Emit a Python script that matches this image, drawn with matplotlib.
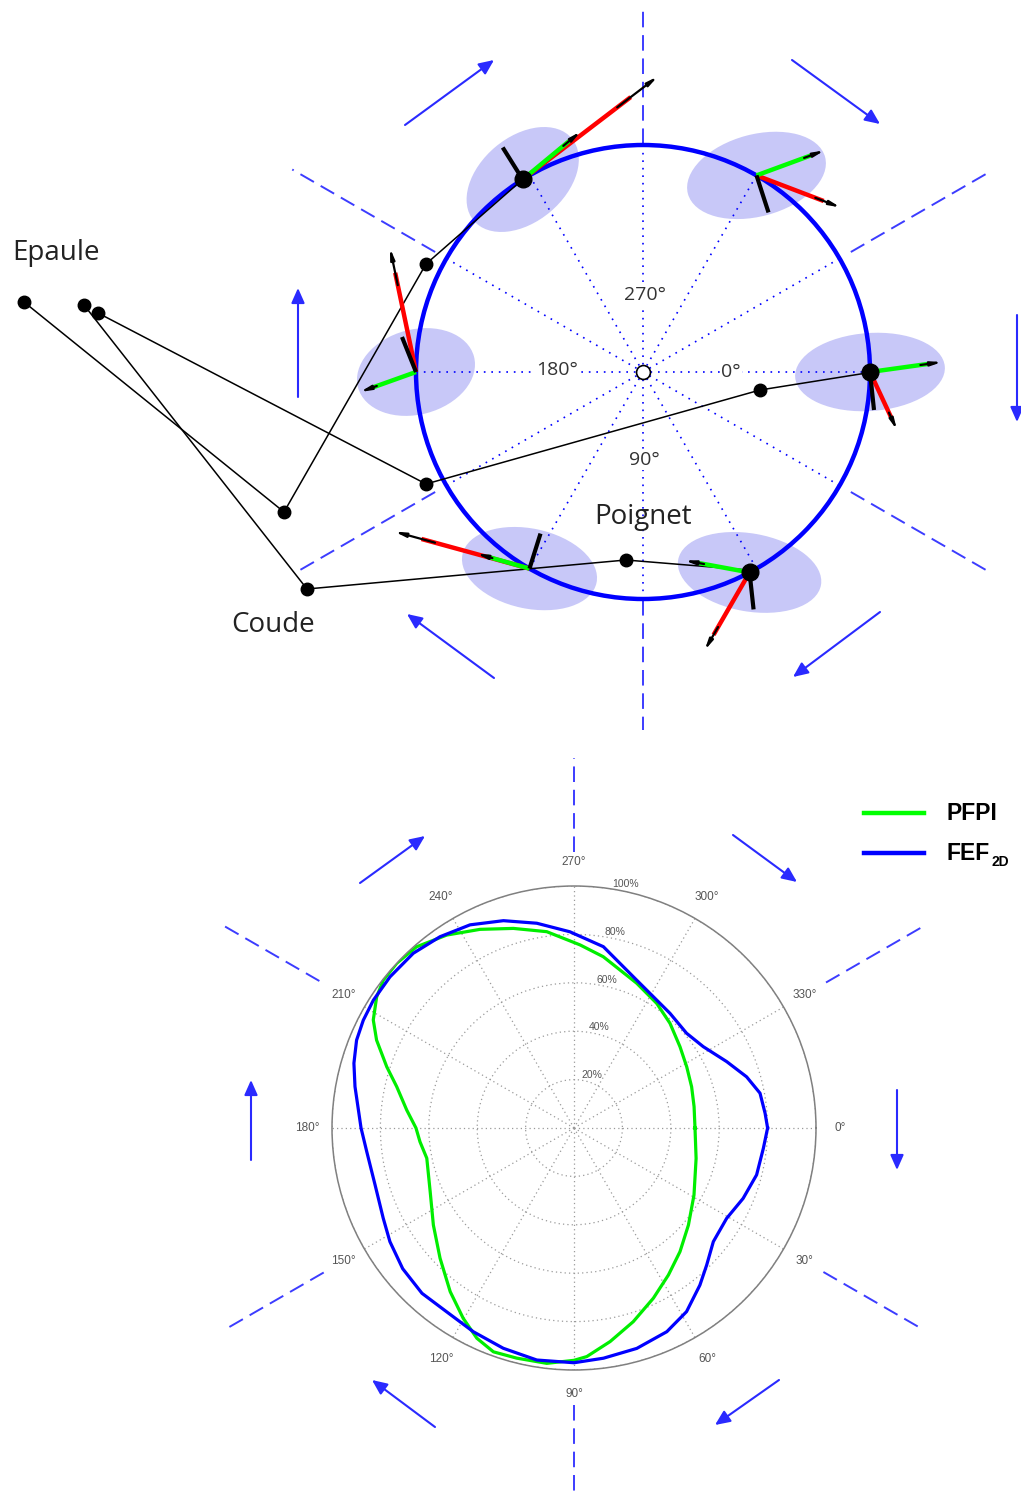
import numpy as np
import matplotlib.pyplot as plt
from matplotlib.patches import Ellipse, Circle

plt.rcParams['font.family'] = ['Open Sans', 'DejaVu Sans']

W, H = 1021, 1492

# ---- bottom panel: normalised force (%),
# angle in degrees clockwise from the right
pfpi_theta = [0, 14, 29.2, 40.3, 49.4, 57.3, 65, 73, 80.4, 86.8, 90, 96.6,
              104, 109.8, 114.8, 120.2, 127.1, 135.8, 145.4, 156.1, 168.4, 174.9,
              180, 186.1, 193.1, 198.1, 204, 208.3, 213.6, 217.8, 222.9, 229,
              236.6, 244.7, 253.1, 262.1, 271.9, 279.7, 293.4, 303.6, 312.5, 322.5,
              331.5, 340.7, 349.9]
pfpi = [50, 52, 56.8, 62, 67.3, 72.2, 77.6, 83.7, 89.5, 94.6, 96, 97.9,
        98, 98.3, 95.7, 91, 84.8, 77.2, 70.6, 65, 62.1, 63.9,
        65.3, 69.5, 75.2, 81.4, 89.3, 94.2, 97.9, 99.7, 100, 99.2,
        95.5, 90.8, 86.2, 81.9, 75.7, 71.8, 65.2, 61.8, 58.7, 55.2,
        53, 51.5, 50.4]
fef_theta = [0, 6.1, 14.4, 22.6, 30.6, 39.2, 45.9, 51.3, 58.5, 65.5, 74.1, 82.7,
             90, 99.1, 107.8, 116.3, 124.7, 132.6, 140.6, 148.3, 154.7, 164,
             173.5, 180, 190.7, 196.4, 202, 207.1, 212.5, 219.4, 227.4, 235,
             242.9, 251.2, 259.7, 268.8, 279.2, 292.9, 309.9, 319.9, 327.8, 336.5,
             343.5, 349.4, 355.6]
fef = [80, 78.7, 77.9, 75.7, 73.3, 74.3, 78.8, 83.2, 89, 92.5, 94.7, 95.9,
       97, 97.1, 95.6, 93.9, 92.4, 92.8, 91.6, 89.4, 87.2, 85.5,
       86.2, 88, 92.1, 94.8, 96.9, 97.8, 98.3, 98.4, 98.1, 96.5,
       94.3, 90.5, 86, 81.1, 75.9, 66.4, 61.8, 60.8, 63.1, 68.8,
       74.4, 78.2, 79.2]
r_ticks = [20, 40, 60, 80, 100]
r_labels = ['20%', '40%', '60%', '80%', '100%']
theta_ticks = list(range(0, 360, 30))

# ---- top panel (picture pixel coordinates, y pointing down)
center = (643, 372)
radius = 227
hand_angles = [0, 62, 120, 180, 238, 300]
ell_w = [150, 145, 137, 120, 128, 142]
ell_h = [78, 78, 80, 85, 85, 82]
ell_tilt = [4, -10, -12, 15, 40, 15]
green_vec = [(72, -10), (-65, -12), (-53, -15), (-56, 20), (58, -48), (68, -25)]
red_vec = [(27, 58), (-45, 78), (-135, -37), (-26, -124), (135, -103), (84, 32)]
black_vec = [(4, 38), (4, 37), (11, -35), (-14, -35), (-20, -32), (12, 37)]
hand_dot = [True, True, False, False, True, False]

# shoulder, elbow, wrist, hand
arms = [
    [(24, 302), (284, 512), (426, 264), (522, 180)],
    [(84, 305), (307, 589), (626, 560), (748, 570)],
    [(98, 313), (426, 484), (760, 390), (873, 372)],
]

fig = plt.figure(figsize=(W / 100, H / 100), dpi=100)
ax = fig.add_axes([0, 0, 1, 1])
ax.set_xlim(0, W)
ax.set_ylim(H, 0)
ax.axis('off')

blue = '#0000ff'
dash_blue = '#3c3cff'


def dashed_rays(cx, cy, angles, r_in, r_out):
    for a, r0, r1 in zip(angles, r_in, r_out):
        c, s = np.cos(np.deg2rad(a)), np.sin(np.deg2rad(a))
        ax.plot([cx + r0 * c, cx + r1 * c], [cy + r0 * s, cy + r1 * s],
                color=dash_blue, lw=1.4, dashes=(8, 4), zorder=1)


def blue_arrow(p0, p1):
    ax.annotate('', xy=p1, xytext=p0,
                arrowprops=dict(arrowstyle='-|>,head_length=0.9,head_width=0.4',
                                color='#2a2aff', lw=1.5, shrinkA=0, shrinkB=0))


def vector(x, y, dx, dy, color):
    ax.plot([x, x + 0.8 * dx], [y, y + 0.8 * dy], color=color, lw=3.2,
            solid_capstyle='butt', zorder=5)
    ax.annotate('', xy=(x + dx, y + dy), xytext=(x + 0.7 * dx, y + 0.7 * dy),
                arrowprops=dict(arrowstyle='-|>,head_length=0.6,head_width=0.12',
                                color='black', lw=1.6, shrinkA=0, shrinkB=0),
                zorder=6)


cx, cy = center
# ellipses
for a, w, h, t in zip(hand_angles, ell_w, ell_h, ell_tilt):
    hx = cx + radius * np.cos(np.deg2rad(a))
    hy = cy + radius * np.sin(np.deg2rad(a))
    ax.add_patch(Ellipse((hx, hy), w, h, angle=-t, color='#c8c8f8', lw=0, zorder=0))

# dotted spokes
for a in range(0, 360, 30):
    c, s = np.cos(np.deg2rad(a)), np.sin(np.deg2rad(a))
    ax.plot([cx, cx + radius * c], [cy, cy + radius * s], color=blue, lw=1.2,
            ls=(0, (1, 3.5)), zorder=1)

ax.add_patch(Circle(center, radius, fill=False, ec=blue, lw=3.2, zorder=3))
ax.plot(cx, cy, 'o', ms=10, mfc='white', mec='black', mew=1.2, zorder=7)

dashed_rays(cx, cy, [30, 90, 150, 210, 270, 330],
            [240, 228, 240, 240, 228, 240], [402, 358, 398, 405, 362, 398])

for p0, p1 in [((405, 125), (494, 60)), ((792, 60), (880, 124)),
               ((1017, 315), (1017, 422)), ((880, 612), (793, 677)),
               ((494, 678), (407, 614)), ((298, 397), (298, 288))]:
    blue_arrow(p0, p1)

# arms
for arm in arms:
    xs, ys = zip(*arm)
    ax.plot(xs, ys, color='black', lw=1.1, zorder=4)
    ax.plot(xs[:3], ys[:3], 'o', color='black', ms=9, zorder=7)

# vectors at each hand
for a, g, r, b, dot in zip(hand_angles, green_vec, red_vec, black_vec, hand_dot):
    hx = cx + radius * np.cos(np.deg2rad(a))
    hy = cy + radius * np.sin(np.deg2rad(a))
    vector(hx, hy, r[0], r[1], '#ff0000')
    vector(hx, hy, g[0], g[1], '#00ff00')
    ax.plot([hx, hx + b[0]], [hy, hy + b[1]], color='black', lw=3, zorder=6,
            solid_capstyle='butt')
    if dot:
        ax.plot(hx, hy, 'o', color='black', ms=12, zorder=7)

lab = dict(fontsize=14, color='#333333', ha='center', va='center', zorder=8,
           bbox=dict(fc='white', ec='none', pad=1))
ax.text(645, 295, '270°', **lab)
ax.text(557, 370, '180°', **lab)
ax.text(731, 372, '0°', **lab)
ax.text(644, 460, '90°', **lab)
ax.text(12, 253, 'Epaule', fontsize=20, color='#222222', va='center')
ax.text(273, 625, 'Coude', fontsize=20, color='#222222', ha='center', va='center')
ax.text(643, 517, 'Poignet', fontsize=20, color='#222222', ha='center', va='center')

# ---- bottom decorations
pcx, pcy = 574, 1128
dashed_rays(pcx, pcy, [30, 90, 150, 210, 270, 330],
            [288, 277, 289, 294, 276, 291], [399, 364, 402, 408, 370, 403])
for p0, p1 in [((360, 883), (425, 836)), ((733, 835), (797, 882)),
               ((897, 1090), (897, 1170)), ((779, 1380), (715, 1425)),
               ((435, 1427), (372, 1380)), ((251, 1160), (251, 1080))]:
    blue_arrow(p0, p1)

# legend
ax.plot([864, 924], [813, 813], color='#00ff00', lw=3.2)
ax.plot([864, 924], [853, 853], color=blue, lw=3.2)
ax.text(946, 813, 'PFPI', fontsize=16.5, fontweight='bold', family='Liberation Sans', va='center')
ax.text(946, 853, 'FEF', fontsize=16.5, fontweight='bold', family='Liberation Sans', va='center')
ax.text(991, 862, '2D', fontsize=10, fontweight='bold', family='Liberation Sans', va='center')

# ---- polar chart
R = 242
axp = fig.add_axes([(pcx - R) / W, (H - pcy - R) / H, 2 * R / W, 2 * R / H],
                   projection='polar')
axp.set_theta_zero_location('E')
axp.set_theta_direction(-1)
axp.plot(np.deg2rad(pfpi_theta + [360]), pfpi + [pfpi[0]], color='#00ee00', lw=2.3)
axp.plot(np.deg2rad(fef_theta + [360]), fef + [fef[0]], color=blue, lw=2.3)
axp.set_ylim(0, 100)
axp.set_yticks(r_ticks)
axp.set_yticklabels(r_labels)
axp.set_rlabel_position(279)
axp.set_thetagrids(theta_ticks, labels=[f'{t}°' for t in theta_ticks])
axp.grid(True, color='#9a9a9a', ls=(0, (1, 2.5)), lw=0.9)
axp.spines['polar'].set_color('#808080')
axp.spines['polar'].set_linewidth(1.1)
axp.tick_params(axis='x', labelsize=8.5, colors='#555555', pad=7)
axp.tick_params(axis='y', labelsize=7.5, colors='#555555')
for t in axp.get_xticklabels():
    t.set_family('Liberation Sans')
for t in axp.get_yticklabels():
    t.set_family('Liberation Sans')
    t.set_va('bottom')

fig.savefig('out.png', dpi=100)
